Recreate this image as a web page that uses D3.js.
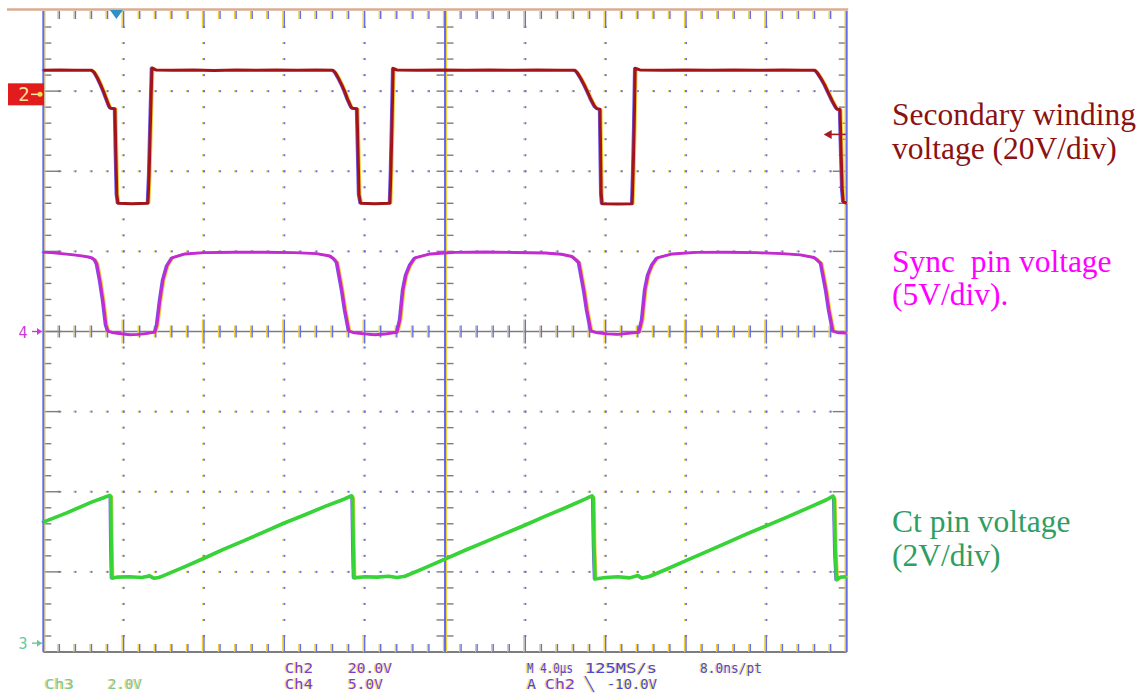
<!DOCTYPE html>
<html><head><meta charset="utf-8">
<script src="https://cdn.jsdelivr.net/npm/d3@7"></script>
<style>
body{margin:0;background:#fff;}
svg{display:block;}
</style></head><body>
<svg id="c" width="1146" height="698"></svg>
<script>
// ---------------- DATA ----------------
// time in microseconds (4 us/div, 10 div), values in volts
const ch2Secondary = [
[0.00,6.0],[0.8,6.1],[1.6,6.0],[2.42,6.0],[2.55,5.4],[2.7,4.1],[2.85,2.5],[3.0,0.7],[3.15,-1.3],[3.28,-3.0],[3.35,-3.5],[3.57,-3.6],[3.61,-14],[3.66,-25],[3.72,-27.2],[4.4,-27.3],[5.21,-27.2],[5.27,-20],[5.33,-8],[5.41,6.6],[5.6,6.1],[6.4,6.0],[7.5,6.1],[8.5,5.95],[9.6,6.1],[10.6,6.0],[11.6,6.1],[12.6,6.0],[13.6,6.05],
[14.42,6.0],[14.55,5.3],[14.7,4.0],[14.85,2.5],[15.0,0.8],[15.15,-1.2],[15.3,-2.9],[15.37,-3.5],[15.62,-3.6],[15.67,-14],[15.72,-25],[15.8,-27.2],[16.5,-27.3],[17.26,-27.2],[17.31,-19],[17.36,-8],[17.42,6.5],[17.6,6.1],[18.6,6.0],[19.8,6.1],[21,6.0],[22.2,6.1],[23.4,6.0],[24.6,6.1],[25.7,6.0],
[26.47,6.0],[26.6,5.3],[26.76,4.0],[26.93,2.4],[27.1,0.6],[27.27,-1.3],[27.45,-3.0],[27.57,-3.6],[27.72,-3.7],[27.75,-15],[27.78,-25],[27.82,-27.3],[28.6,-27.4],[29.32,-27.3],[29.37,-19],[29.42,-8],[29.47,6.5],[29.7,6.1],[30.8,6.0],[32,6.1],[33.2,6.0],[34.4,6.1],[35.6,6.0],[36.8,6.1],[37.8,6.0],
[38.42,6.0],[38.55,5.3],[38.72,4.0],[38.9,2.4],[39.08,0.5],[39.27,-1.5],[39.45,-3.2],[39.52,-3.7],[39.67,-3.8],[39.72,-14],[39.78,-24],[39.83,-26.8],[40.0,-27.2]
];
const ch4Sync = [
[0.00,4.95],[0.4,4.92],[0.9,4.86],[1.4,4.8],[1.9,4.72],[2.25,4.65],[2.42,4.59],[2.57,4.45],[2.67,4.2],[2.82,3.2],[2.97,1.97],[3.12,0.41],[3.22,0.03],[3.5,-0.08],[3.9,-0.14],[4.3,-0.2],[4.7,-0.18],[5.1,-0.13],[5.56,-0.04],[5.66,0.41],[5.81,1.95],[5.96,3.2],[6.16,4.1],[6.41,4.6],[7.05,4.84],[8,4.92],[9.5,4.95],[11,4.95],[12.5,4.92],[13.6,4.86],[14.27,4.71],
[14.45,4.55],[14.62,4.3],[14.87,2.59],[15.02,1.34],[15.22,0.03],[15.5,-0.08],[16.0,-0.15],[16.5,-0.2],[17.0,-0.16],[17.61,-0.05],[17.76,0.72],[17.91,2.59],[18.06,3.53],[18.26,4.15],[18.5,4.59],[19.26,4.84],[20.5,4.94],[22,4.96],[23.5,4.93],[25,4.9],[25.8,4.82],[26.32,4.68],
[26.5,4.5],[26.67,4.3],[26.92,2.59],[27.07,1.34],[27.27,0.03],[27.6,-0.08],[28.1,-0.15],[28.6,-0.18],[29.1,-0.12],[29.66,-0.05],[29.81,0.72],[29.96,2.59],[30.11,3.53],[30.31,4.15],[30.56,4.59],[31.31,4.84],[32.5,4.94],[34,4.95],[35.5,4.92],[36.8,4.86],[37.7,4.78],[38.37,4.62],
[38.55,4.45],[38.72,4.25],[38.97,2.59],[39.12,1.34],[39.32,0.03],[39.6,-0.08],[40.0,-0.1]
];
const ch3Ct = [
[0.00,3.02],[0.6,3.14],[1.2,3.26],[1.8,3.39],[2.4,3.52],[3.0,3.63],[3.3,3.69],[3.36,3.66],[3.38,2.6],[3.42,1.62],[3.7,1.65],[4.3,1.66],[4.9,1.64],[5.3,1.68],[5.5,1.62],[5.75,1.64],[5.96,1.68],[7,1.9],[8,2.12],[9,2.35],[10,2.56],[11,2.78],[12,3.0],[13,3.2],[14,3.41],[15,3.6],[15.35,3.68],
[15.4,3.62],[15.43,2.5],[15.47,1.63],[16,1.66],[16.6,1.65],[17.2,1.67],[17.6,1.64],[18.01,1.67],[19,1.88],[20,2.1],[21,2.32],[22,2.53],[23,2.74],[24,2.95],[25,3.17],[26,3.38],[27,3.6],[27.32,3.68],
[27.38,3.62],[27.42,2.4],[27.47,1.6],[28,1.64],[28.6,1.66],[29.2,1.63],[29.6,1.69],[29.8,1.62],[30.2,1.67],[31,1.84],[32,2.06],[33,2.28],[34,2.5],[35,2.72],[36,2.93],[37,3.14],[38,3.36],[39,3.58],[39.32,3.67],
[39.38,3.6],[39.43,2.3],[39.5,1.58],[39.7,1.65],[40.0,1.66]
];
const timeDomainUs = [0, 40];
const xDivisions = 10, yDivisions = 8;
const voltsPerDiv = {ch2: 20, ch4: 5, ch3: 2};
const offsetDiv = {ch2: 2.96, ch4: 0, ch3: -3.89};
const triggerTimeUs = 3.64, triggerLevelV = -10;
const channelMarkers = ["2", "4", "3"];
const readoutRow1 = ["Ch2", "20.0V", "M 4.0\u03bcs", "125MS/s", "8.0ns/pt"];
const readoutRow2 = ["Ch3", "2.0V", "Ch4", "5.0V", "A", "Ch2", "\u2572", "-10.0V"];
const labelSecondary = ["Secondary winding", "voltage (20V/div)"];
const labelSync = ["Sync  pin voltage", "(5V/div)."];
const labelCt = ["Ct pin voltage", "(2V/div)"];

// ---------------- LAYOUT ----------------
const svg = d3.select("#c");
const X0 = 43.3, X1 = 846.7, YT = 11, YB = 652;
const xDiv = d3.scaleLinear().domain([0, xDivisions]).range([X0, X1]);
const yDiv = d3.scaleLinear().domain([-yDivisions/2, yDivisions/2]).range([YB, YT]);
const xT = d3.scaleLinear().domain(timeDomainUs).range([X0, X1]);
const yCh = ch => v => yDiv(v / voltsPerDiv[ch] + offsetDiv[ch]);

const BLUE = "#5f6ff0", YEL = "#f2cc3a", GRAY = "#7d7d7d";
const g = svg.append("g");

// top tan border
g.append("line").attr("x1", 7).attr("x2", X1 + 1.5).attr("y1", 9.5).attr("y2", 9.5)
  .attr("stroke", "#d8ad93").attr("stroke-width", 2.5);

const minorX = d3.range(0, xDivisions * 5 + 1).map(i => i / 5);
const minorY = d3.range(0, yDivisions * 5 + 1).map(i => -yDivisions/2 + i / 5);
const isMajor = v => Math.abs(v - Math.round(v)) < 1e-6;

// dotted grid
const dots = g.append("g");
d3.range(1, xDivisions).filter(k => k !== xDivisions/2).forEach(k => {
  minorY.slice(1, -1).forEach(v => {
    dots.append("rect").attr("x", xDiv(k) - 2).attr("y", yDiv(v) - 1).attr("width", 1.2).attr("height", 2).attr("fill", YEL);
    dots.append("rect").attr("x", xDiv(k) - 0.8).attr("y", yDiv(v) - 1).attr("width", 1.8).attr("height", 2).attr("fill", BLUE);
  });
});
d3.range(-yDivisions/2 + 1, yDivisions/2).filter(k => k !== 0).forEach(k => {
  minorX.slice(1, -1).forEach(v => {
    dots.append("rect").attr("x", xDiv(v) - 2).attr("y", yDiv(k) - 1).attr("width", 1.2).attr("height", 2).attr("fill", YEL);
    dots.append("rect").attr("x", xDiv(v) - 0.8).attr("y", yDiv(k) - 1).attr("width", 1.8).attr("height", 2).attr("fill", BLUE);
  });
});

function vtick(x, y1, y2) {
  g.append("line").attr("x1", x - 1.5).attr("x2", x - 1.5).attr("y1", y1).attr("y2", y2).attr("stroke", YEL).attr("stroke-width", 1.3);
  g.append("line").attr("x1", x).attr("x2", x).attr("y1", y1).attr("y2", y2).attr("stroke", BLUE).attr("stroke-width", 1.4);
}
function htick(y, x1, x2) {
  g.append("line").attr("x1", x1).attr("x2", x2).attr("y1", y).attr("y2", y).attr("stroke", GRAY).attr("stroke-width", 1.4);
}
// center horizontal line
g.append("line").attr("x1", X0).attr("x2", X1).attr("y1", yDiv(0)).attr("y2", yDiv(0)).attr("stroke", GRAY).attr("stroke-width", 1.6);
// bottom border
g.append("line").attr("x1", X0).attr("x2", X1).attr("y1", YB).attr("y2", YB).attr("stroke", GRAY).attr("stroke-width", 2);

minorX.slice(1, -1).forEach(v => {
  const m = isMajor(v), x = xDiv(v);
  vtick(x, YT, YT + (m ? 17 : 8));
  vtick(x, YB, YB - (m ? 17 : 8));
  if (v !== xDivisions/2) vtick(x, yDiv(0) - (m ? 12 : 6), yDiv(0) + (m ? 12 : 6));
});
minorY.slice(1, -1).forEach(v => {
  const m = isMajor(v), y = yDiv(v);
  htick(y, X0 + 1, X0 + (m ? 18 : 8));
  htick(y, X1 - (m ? 14 : 8), X1 - 1);
  if (v !== 0) htick(y, xDiv(xDivisions/2) - 8.5, xDiv(xDivisions/2) + 8.5);
});
// borders + center vertical
[[X0, 1], [xDiv(xDivisions/2), 1], [X1, -1]].forEach(([x, s]) => {
  g.append("line").attr("x1", x + 1.6 * s).attr("x2", x + 1.6 * s).attr("y1", YT).attr("y2", YB).attr("stroke", YEL).attr("stroke-width", 1.2);
  g.append("line").attr("x1", x).attr("x2", x).attr("y1", YT).attr("y2", YB).attr("stroke", BLUE).attr("stroke-width", 2);
});

// ---------------- TRACES ----------------
function trace(data, ch, color, width) {
  const y = yCh(ch);
  const line = d3.line().x(d => xT(d[0])).y(d => y(d[1]));
  const tg = svg.append("g");
  tg.append("path").attr("d", line(data)).attr("transform", "translate(1.7,0)")
    .attr("fill", "none").attr("stroke", YEL).attr("stroke-width", 1.5).attr("stroke-linejoin", "round");
  tg.append("path").attr("d", line(data)).attr("transform", "translate(-1.5,0)")
    .attr("fill", "none").attr("stroke", "#6a58f0").attr("stroke-width", 1.5).attr("stroke-linejoin", "round");
  tg.append("path").attr("d", line(data))
    .attr("fill", "none").attr("stroke", color).attr("stroke-width", width).attr("stroke-linejoin", "round");
}
trace(ch2Secondary, "ch2", "#a3141a", 3);
trace(ch4Sync, "ch4", "#c42ad2", 2.9);
trace(ch3Ct, "ch3", "#36d436", 3.6);

// ---------------- MARKERS ----------------
const y2g = yCh("ch2")(0), y4g = yCh("ch4")(0), y3g = yCh("ch3")(0);
g.append("rect").attr("x", 8).attr("y", y2g - 11).attr("width", 36).attr("height", 22).attr("fill", "#e21c1c");
svg.append("text").attr("x", 24).attr("y", y2g + 7).attr("text-anchor", "middle")
  .attr("font-family", "DejaVu Sans Mono").attr("font-size", 19).attr("fill", "#f7dfa0").text(channelMarkers[0]);
svg.append("line").attr("x1", 31).attr("x2", 41).attr("y1", y2g).attr("y2", y2g).attr("stroke", "#f7e6b0").attr("stroke-width", 1.5);
svg.append("circle").attr("cx", 40).attr("cy", y2g).attr("r", 2.5).attr("fill", "#f6e050");

function sideMarker(label, y, color) {
  svg.append("text").attr("x", 23).attr("y", y + 6).attr("text-anchor", "middle")
    .attr("font-family", "DejaVu Sans Mono").attr("font-size", 15).attr("fill", color).text(label);
  svg.append("line").attr("x1", 32).attr("x2", 42).attr("y1", y).attr("y2", y).attr("stroke", color).attr("stroke-width", 1.4);
  svg.append("path").attr("d", `M${37},${y - 3.5}L${42},${y}L${37},${y + 3.5}Z`).attr("fill", color);
}
sideMarker(channelMarkers[1], y4g, "#c93bd6");
sideMarker(channelMarkers[2], y3g, "#6fc59a");

// trigger position (top)
const tx = xT(triggerTimeUs);
svg.append("path").attr("d", `M${tx - 6.5},${YT - 1}L${tx + 6.5},${YT - 1}L${tx},${YT + 8}Z`).attr("fill", "#2f92c4");
// trigger level (right)
const ty = yCh("ch2")(triggerLevelV);
svg.append("line").attr("x1", X1 - 16).attr("x2", X1 - 1).attr("y1", ty).attr("y2", ty).attr("stroke", "#a51a22").attr("stroke-width", 1.6);
svg.append("path").attr("d", `M${X1 - 23},${ty}L${X1 - 15},${ty - 4.5}L${X1 - 15},${ty + 4.5}Z`).attr("fill", "#a51a22");

// ---------------- READOUTS ----------------
const PURP = "#7a3ed6", DBLUE = "#4a46d4", GRN = "#74c99c";
function readout(t, x, y, w, color) {
  [[x - 1.2, YEL], [x, color]].forEach(([xx, c], i) => {
    svg.append("text").attr("x", xx).attr("y", y).attr("font-family", "DejaVu Sans Mono")
      .attr("font-size", 14).attr("fill", c).attr("opacity", i ? 1 : 0.8)
      .attr("textLength", w).attr("lengthAdjust", "spacingAndGlyphs")
      .style("white-space", "pre").text(t);
  });
}
const r1y = 673, r2y = 689;
const row1Pos = [[285, 28, PURP], [348, 44, PURP], [527, 46, DBLUE], [585, 72, DBLUE], [700, 62, DBLUE]];
readoutRow1.forEach((t, i) => readout(t, row1Pos[i][0], r1y, row1Pos[i][1], row1Pos[i][2]));
const row2Pos = [[45, 29, GRN], [108, 34, GRN], [285, 28, PURP], [348, 35, PURP], [527, 9, DBLUE], [545, 30, PURP], [585, 9, DBLUE], [607, 50, DBLUE]];
readoutRow2.forEach((t, i) => readout(t, row2Pos[i][0], r2y, row2Pos[i][1], row2Pos[i][2]));

// ---------------- RIGHT LABELS ----------------
function label(lines, y, color) {
  const t = svg.append("text").attr("font-family", "Liberation Serif, Times New Roman, serif")
    .attr("font-size", 31.5).attr("fill", color).style("white-space", "pre");
  lines.forEach((s, i) => t.append("tspan").attr("x", 892).attr("y", y + i * 33.5).text(s));
}
label(labelSecondary, 125, "#8b1212");
label(labelSync, 271.5, "#ff00ff");
label(labelCt, 532, "#2e9e62");
</script>
</body></html>
